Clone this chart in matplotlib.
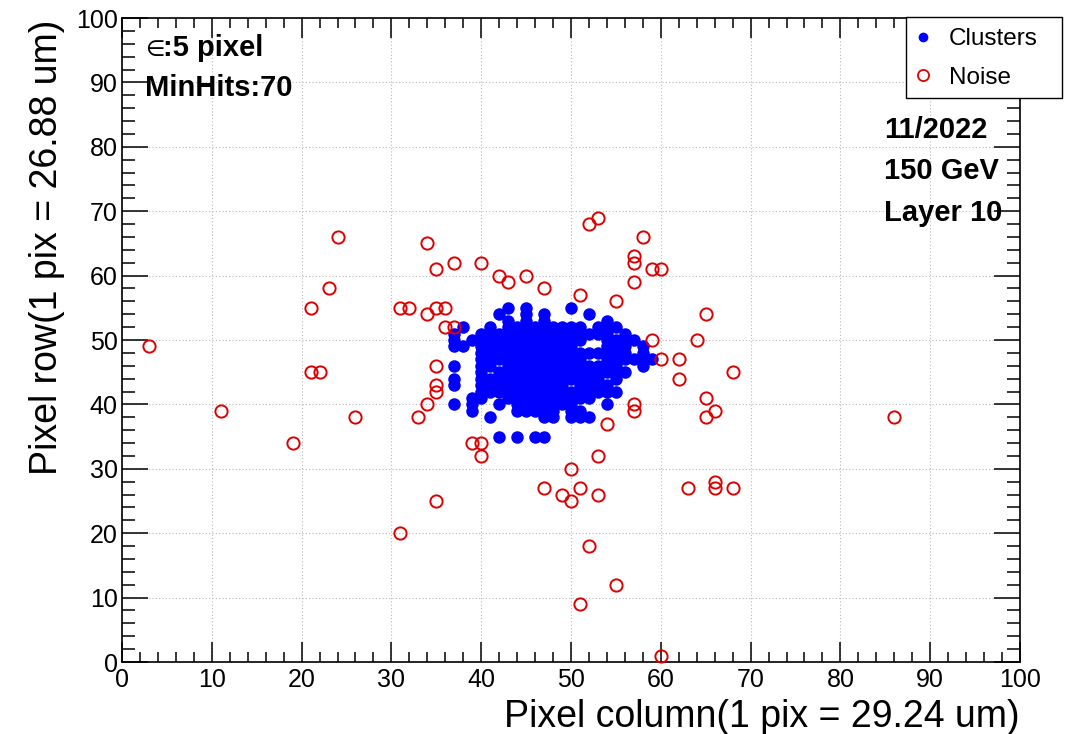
import matplotlib
matplotlib.use("Agg")
import matplotlib.pyplot as plt
from matplotlib.ticker import MultipleLocator
from matplotlib.patches import Rectangle
from matplotlib.lines import Line2D

plt.rcParams['font.family'] = ['Liberation Sans', 'DejaVu Sans']

# --- Cluster hits: one entry per pixel row, listing the fired columns ---
cluster_rows = [55, 54, 53, 52, 51, 50, 49, 48, 47, 46, 45, 44, 43, 42, 41, 40, 39, 38, 35]
cluster_cols = [
    [43, 45, 50],
    [42, 45, 47, 52],
    [43, 45, 47, 54],
    [38, 41, 43, 44, 45, 46, 47, 48, 49, 50, 51, 53, 54, 55],
    [37, 40, 41, 42, 43, 44, 45, 46, 47, 48, 49, 50, 51, 52, 53, 54, 56],
    [37, 39, 40, 41, 42, 43, 44, 45, 46, 47, 48, 49, 50, 51, 54, 55, 56, 57],
    [37, 38, 40, 41, 42, 43, 44, 45, 46, 47, 48, 49, 50, 54, 55, 56, 58],
    [40, 41, 42, 43, 44, 45, 46, 47, 48, 49, 50, 51, 52, 53, 54, 55, 56, 58],
    [40, 41, 42, 43, 44, 45, 46, 47, 48, 49, 50, 51, 54, 55, 56, 57, 58, 59],
    [37, 40, 41, 43, 44, 45, 46, 47, 48, 49, 50, 51, 52, 53, 54, 55, 58],
    [40, 42, 43, 44, 45, 46, 47, 48, 49, 50, 51, 52, 53, 54, 55, 56],
    [37, 40, 41, 42, 43, 44, 45, 46, 47, 48, 49, 50, 51, 52, 53, 55],
    [37, 40, 41, 42, 43, 44, 45, 46, 47, 48, 49, 51, 52, 53, 54],
    [40, 41, 42, 43, 44, 45, 46, 47, 48, 49, 50, 51, 52, 53, 54, 55],
    [39, 40, 43, 44, 45, 46, 47, 48, 49, 50, 51, 52],
    [37, 39, 42, 44, 45, 46, 47, 48, 49, 50, 54],
    [39, 44, 45, 46, 47, 48, 50, 51],
    [41, 47, 48, 50, 51, 52],
    [42, 44, 46, 47],
]

# --- Noise hits (column, row) ---
noise_col = [3, 11, 19, 21, 21, 22, 23, 24, 26,
             31, 32, 31, 33, 34, 34, 34,
             35, 35, 36, 35, 35, 35, 35, 36, 37, 37,
             39, 40, 40, 40, 42, 43, 45, 47, 47,
             49, 50, 50, 51, 51, 51, 52, 52, 53, 53, 53,
             54, 55, 55, 57, 57, 57, 57, 57, 58,
             59, 59, 60, 60, 60, 62, 62, 63, 64,
             65, 65, 65, 66, 66, 66, 68, 68, 86]
noise_row = [49, 39, 34, 55, 45, 45, 58, 66, 38,
             55, 55, 20, 38, 65, 54, 40,
             61, 55, 55, 46, 43, 42, 25, 52, 62, 52,
             34, 34, 32, 62, 60, 59, 60, 58, 27,
             26, 30, 25, 57, 27, 9, 68, 18, 69, 32, 26,
             37, 56, 12, 63, 62, 59, 40, 39, 66,
             61, 50, 61, 47, 1, 47, 44, 27, 50,
             54, 41, 38, 39, 28, 27, 45, 27, 38]

cluster_x = [c for row, cols in zip(cluster_rows, cluster_cols) for c in cols]
cluster_y = [row for row, cols in zip(cluster_rows, cluster_cols) for c in cols]

W, H = 1076, 734
fig = plt.figure(figsize=(W / 100, H / 100), dpi=100)
ax = fig.add_axes([122 / W, 72 / H, 898 / W, 644 / H])

ax.plot(cluster_x, cluster_y, 'o', ls='none', color='#0000ff', ms=9.0, mew=0, zorder=3)
ax.plot(noise_col, noise_row, 'o', ls='none', mfc='none', mec='#dd0000',
        ms=8.8, mew=1.4, zorder=4, clip_on=False)

ax.set_xlim(0, 100)
ax.set_ylim(0, 100)
for axis in (ax.xaxis, ax.yaxis):
    axis.set_major_locator(MultipleLocator(10))
    axis.set_minor_locator(MultipleLocator(2))

ax.grid(True, which='major', color='#b8b8b8', linestyle=(0, (1, 2)), lw=0.8)
ax.set_axisbelow(True)
for sp in ax.spines.values():
    sp.set_linewidth(1.2)

ax.tick_params(which='both', direction='in', top=True, right=True, width=1.1,
               labelsize=18, colors='black')
ax.tick_params(axis='x', which='major', length=14.4, pad=4)
ax.tick_params(axis='x', which='minor', length=7.2)
ax.tick_params(axis='y', which='major', length=18.7, pad=3)
ax.tick_params(axis='y', which='minor', length=9.4)

ax.set_xlabel('Pixel column(1 pix = 29.24 um)', fontsize=27, ha='right', va='baseline')
ax.xaxis.set_label_coords(1.0, (662 - 727) / 644)
ax.set_ylabel('Pixel row(1 pix = 26.88 um)', fontsize=27, ha='right', va='baseline',
              rotation_mode='anchor')
ax.yaxis.set_label_coords((57 - 122) / 898, (662 - 20) / 644)

# run info
txt = dict(transform=ax.transAxes, fontsize=21, fontweight='bold', va='baseline', zorder=6)
ax.text((145 - 122) / 898, (662 - 56) / 644, '\u2208', transform=ax.transAxes,
        fontsize=16, va='baseline', zorder=6)
ax.text((163 - 122) / 898, (662 - 56) / 644, ':5 pixel', **txt)
ax.text((145 - 122) / 898, (662 - 96) / 644, 'MinHits:70', **txt)
ax.text((884 - 122) / 898, (662 - 138) / 644, '11/2022', **txt)
ax.text((884 - 122) / 898, (662 - 179) / 644, '150 GeV', **txt)
ax.text((884 - 122) / 898, (662 - 221) / 644, 'Layer 10', **txt)

# legend box drawn over the frame
fig.add_artist(Rectangle((906 / W, 1 - 98 / H), 156 / W, 81 / H, transform=fig.transFigure,
                         facecolor='white', edgecolor='black', lw=1.0, zorder=4))
handles = [Line2D([], [], marker='o', ls='none', color='#0000ff', ms=7, mew=0),
           Line2D([], [], marker='o', ls='none', mfc='none', mec='#dd0000', ms=8, mew=1.3)]
fig.legend(handles, ['Clusters', 'Noise'], loc='upper left',
           bbox_to_anchor=(906 / W, 1 - 21 / H), bbox_transform=fig.transFigure,
           frameon=False, fontsize=17.5, borderpad=0.3, borderaxespad=0,
           handlelength=0.8, handletextpad=0.66, labelspacing=0.68)

fig.savefig('out.png', dpi=100)
